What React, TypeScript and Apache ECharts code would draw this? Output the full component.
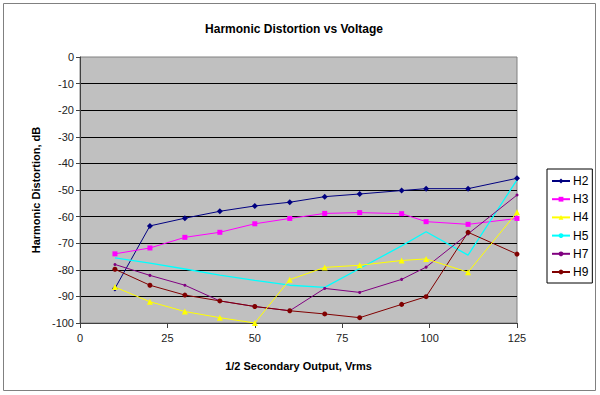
import React, { useEffect, useRef } from "react";
import * as echarts from "echarts";

const xValues = [10, 20, 30, 40, 50, 60, 70, 80, 92, 99, 111, 125];
const h2 = [-87, -63.5, -60.6, -58, -56, -54.6, -52.5, -51.5, -50.2, -49.5, -49.5, -45.6];
const h3 = [-74, -71.8, -67.8, -65.9, -62.7, -60.7, -58.8, -58.5, -58.9, -61.9, -62.9, -60.7];
const h4 = [-86.5, -92, -95.7, -98, -100, -83.7, -79.1, -78.3, -76.5, -75.9, -80.9, -58.4];
const h5 = [-75.5, -77.5, -79.7, -82, -84, -85.8, -86.6, -79.5, -71, -65.7, -74.5, -46.2];
const h7 = [-78, -82.1, -85.8, -91.7, -93.8, -95.4, -87, -88.5, -83.6, -79, -66.5, -51.9];
const h9 = [-79.8, -85.8, -89.5, -91.7, -93.8, -95.4, -96.6, -98, -93, -90.1, -65.9, -74.1];

const yTicks = [0, -10, -20, -30, -40, -50, -60, -70, -80, -90, -100];
const xTicks = [0, 25, 50, 75, 100, 125];

const FONT = '"Liberation Sans", Arial, sans-serif';

function pairs(ys: number[]) {
  return xValues.map((x, i) => [x, ys[i]]);
}

export default function App() {
  const ref = useRef<HTMLDivElement>(null);
  useEffect(() => {
    const chart = echarts.init(ref.current!, null, { renderer: "svg" });
    const mk = (
      name: string,
      data: number[],
      color: string,
      symbol: string,
      size: number,
      width = 1,
      z = 3
    ) => ({
      name,
      type: "line",
      data: pairs(data),
      symbol,
      symbolSize: size,
      showSymbol: symbol !== "none",
      lineStyle: { color, width },
      itemStyle: { color, borderColor: color, borderWidth: 0 },
      emphasis: { disabled: true },
      z,
    });
    chart.setOption({
      animation: false,
      backgroundColor: "#ffffff",
      textStyle: { fontFamily: FONT },
      grid: {
        left: 80,
        top: 57,
        width: 437,
        height: 266,
        show: true,
        backgroundColor: "#C0C0C0",
        borderColor: "#808080",
        borderWidth: 1,
      },
      graphic: [
        {
          type: "rect",
          shape: { x: 3.5, y: 3.5, width: 592, height: 387 },
          style: { fill: "none", stroke: "#808080", lineWidth: 1 },
          silent: true,
        },
        {
          type: "text",
          x: 294,
          y: 29,
          style: {
            text: "Harmonic Distortion vs Voltage",
            font: `bold 12px ${FONT}`,
            fill: "#000",
            align: "center",
            verticalAlign: "middle",
          },
        },
      ],
      xAxis: {
        type: "value",
        min: 0,
        max: 125,
        interval: 25,
        name: "1/2 Secondary Output, Vrms",
        nameLocation: "middle",
        nameGap: 37,
        nameTextStyle: { fontFamily: FONT, fontSize: 11, fontWeight: "bold", color: "#000" },
        axisLine: { show: true, onZero: false, lineStyle: { color: "#404040", width: 1 } },
        axisTick: { show: true, length: 5, inside: false, lineStyle: { color: "#404040" } },
        axisLabel: {
          fontFamily: FONT,
          fontSize: 11,
          color: "#222",
          margin: 9,
          formatter: (v: number) => (xTicks.includes(v) ? String(v) : ""),
        },
        splitLine: { show: false },
      },
      yAxis: {
        type: "value",
        min: -100,
        max: 0,
        interval: 10,
        name: "Harmonic Distortion, dB",
        nameLocation: "middle",
        nameGap: 37,
        nameTextStyle: { fontFamily: FONT, fontSize: 11, fontWeight: "bold", color: "#000" },
        axisLine: { show: true, onZero: false, lineStyle: { color: "#404040", width: 1 } },
        axisTick: { show: true, length: 4, inside: false, lineStyle: { color: "#404040" } },
        axisLabel: {
          fontFamily: FONT,
          fontSize: 11,
          color: "#222",
          margin: 6,
          formatter: (v: number) => (yTicks.includes(v) ? String(v) : ""),
        },
        splitLine: { show: true, showMaxLine: false, lineStyle: { color: "#000", width: 1 } },
      },
      legend: {
        orient: "vertical",
        left: 547,
        top: 169,
        width: 43,
        padding: [6, 4, 5, 4],
        itemGap: 6.2,
        itemWidth: 18,
        itemHeight: 6,
        borderColor: "#000",
        borderWidth: 1,
        backgroundColor: "#fff",
        textStyle: { fontFamily: FONT, fontSize: 12, color: "#000", padding: [0, 0, 0, -2] },
        data: ["H2", "H3", "H4", "H5", "H7", "H9"],
      },
      series: [
        mk("H2", h2, "#000080", "diamond", 6),
        mk("H3", h3, "#FF00FF", "rect", 5),
        mk("H4", h4, "#FFFF00", "triangle", 6, 1, 4),
        mk("H5", h5, "#00FFFF", "none", 0, 1.3),
        mk("H7", h7, "#800080", "circle", 3),
        mk("H9", h9, "#800000", "circle", 5),
      ],
    });
    return () => chart.dispose();
  }, []);
  return (
    <div
      ref={ref}
      style={{ position: "absolute", left: 0, top: 0, width: 600, height: 395 }}
    />
  );
}
